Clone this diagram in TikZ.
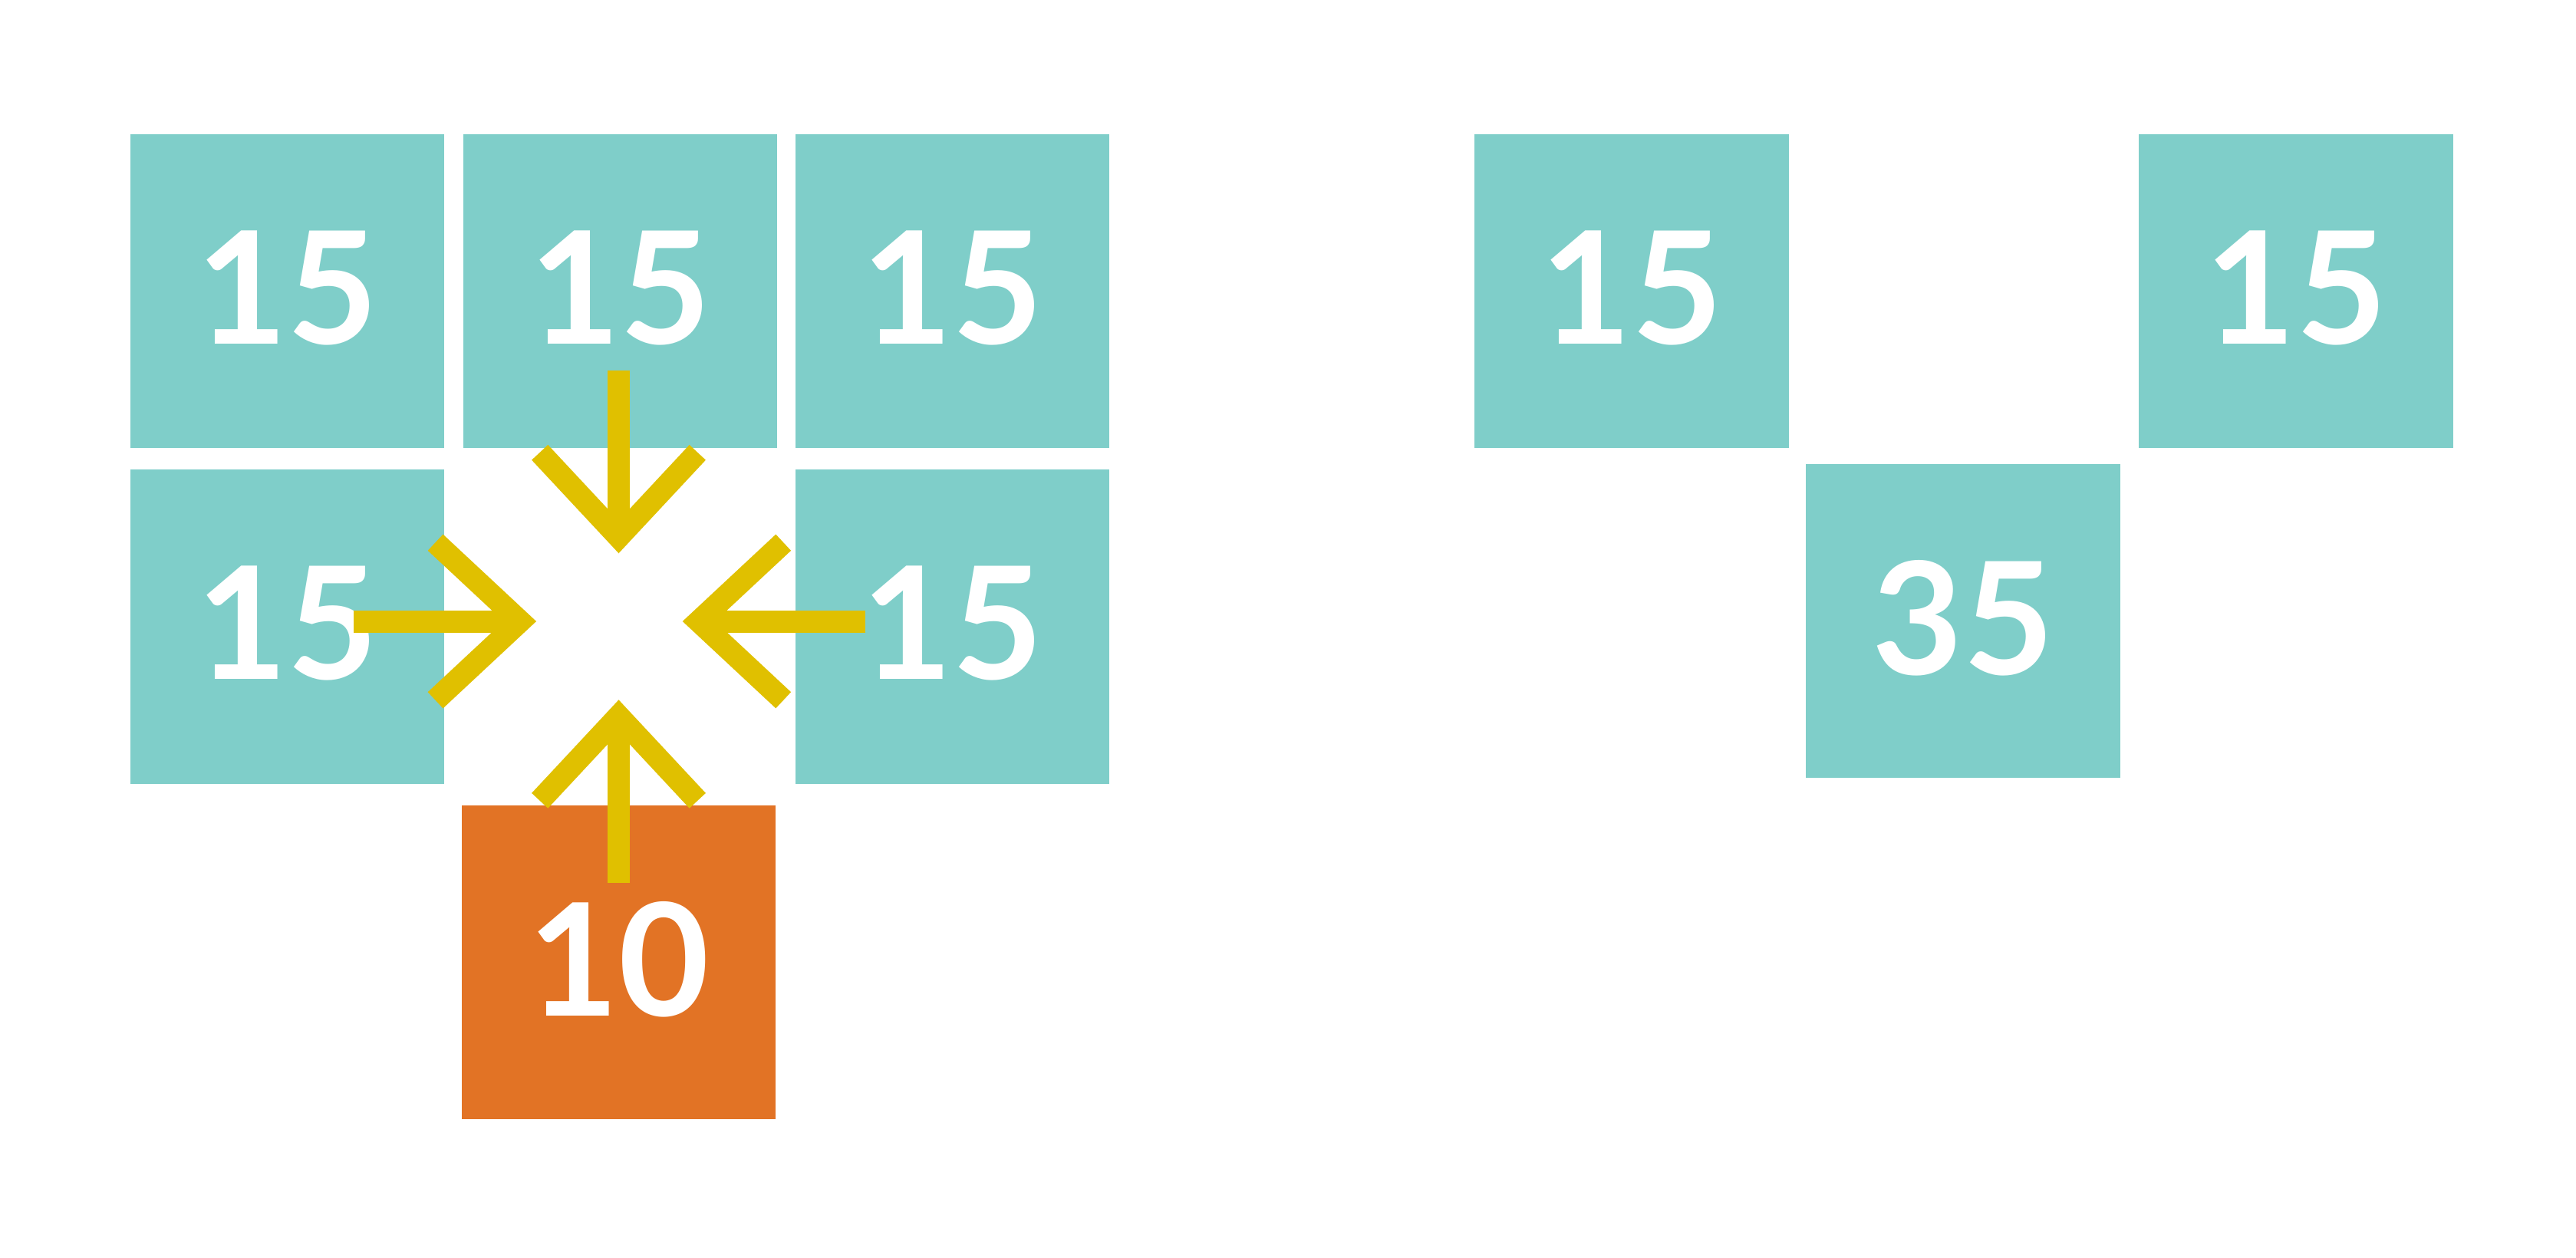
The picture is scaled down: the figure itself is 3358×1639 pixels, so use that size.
\documentclass[tikz,border=0pt]{standalone}
\usepackage{fontspec}
\setmainfont{Lato}
\usepackage{tikz}
\usetikzlibrary{arrows.meta}
\definecolor{cellTeal}{RGB}{127,206,201}
\definecolor{cellOrange}{RGB}{226,115,37}
\definecolor{arrMustard}{RGB}{224,192,0}
\tikzset{
  cell/.style    = {fill=cellTeal, minimum width=4.09cm, minimum height=4.09cm,
                    inner sep=0pt, outer sep=0pt, text=white, text depth=0.1cm,
                    font=\fontsize{58}{58}\selectfont\bfseries},
  hotcell/.style = {cell, fill=cellOrange},
  shaft/.style   = {arrMustard, line width=0.29cm},
  barb/.style    = {arrMustard, line width=0.29cm, line join=miter}
}

\begin{document}
\begin{tikzpicture}[x=0.01cm, y=-0.01cm]
    \useasboundingbox (0,0) rectangle (3358,1639);

    % left block
    \node[cell]    (nw)   at (374.5,379.5)  {15};
    \node[cell]    (n)    at (808.5,379.5)  {15};
    \node[cell]    (ne)   at (1241.5,379.5) {15};
    \node[cell]    (w)    at (374.5,817)    {15};
    \node[cell]    (e)    at (1241.5,817)   {15};
    \node[hotcell] (s)    at (806.5,1254.5) {10};

    % right block
    \node[cell]    (rl)   at (2127,379.5)   {15};
    \node[cell]    (rr)   at (2993,379.5)   {15};
    \node[cell]    (mid)  at (2559,809.5)   {35};

    \coordinate (nS) at (806.5,483);    \coordinate (nT) at (806.5,700);
    \coordinate (sS) at (806.5,1151);   \coordinate (sT) at (806.5,933.6);
    \coordinate (wS) at (460.7,810);    \coordinate (wT) at (677.8,810);
    \coordinate (eS) at (1128.3,810);   \coordinate (eT) at (911,810);

    \draw[shaft] (nS) -- (nT);
    \draw[barb]  (nT) ++(-102.8,-110.2) -- (nT) -- ++(102.8,-110.2);
    \draw[shaft] (sS) -- (sT);
    \draw[barb]  (sT) ++(-102.8,110.2) -- (sT) -- ++(102.8,110.2);
    \draw[shaft] (wS) -- (wT);
    \draw[barb]  (wT) ++(-110.2,-102.8) -- (wT) -- ++(-110.2,102.8);
    \draw[shaft] (eS) -- (eT);
    \draw[barb]  (eT) ++(110.2,-102.8) -- (eT) -- ++(110.2,102.8);
\end{tikzpicture}
\end{document}
